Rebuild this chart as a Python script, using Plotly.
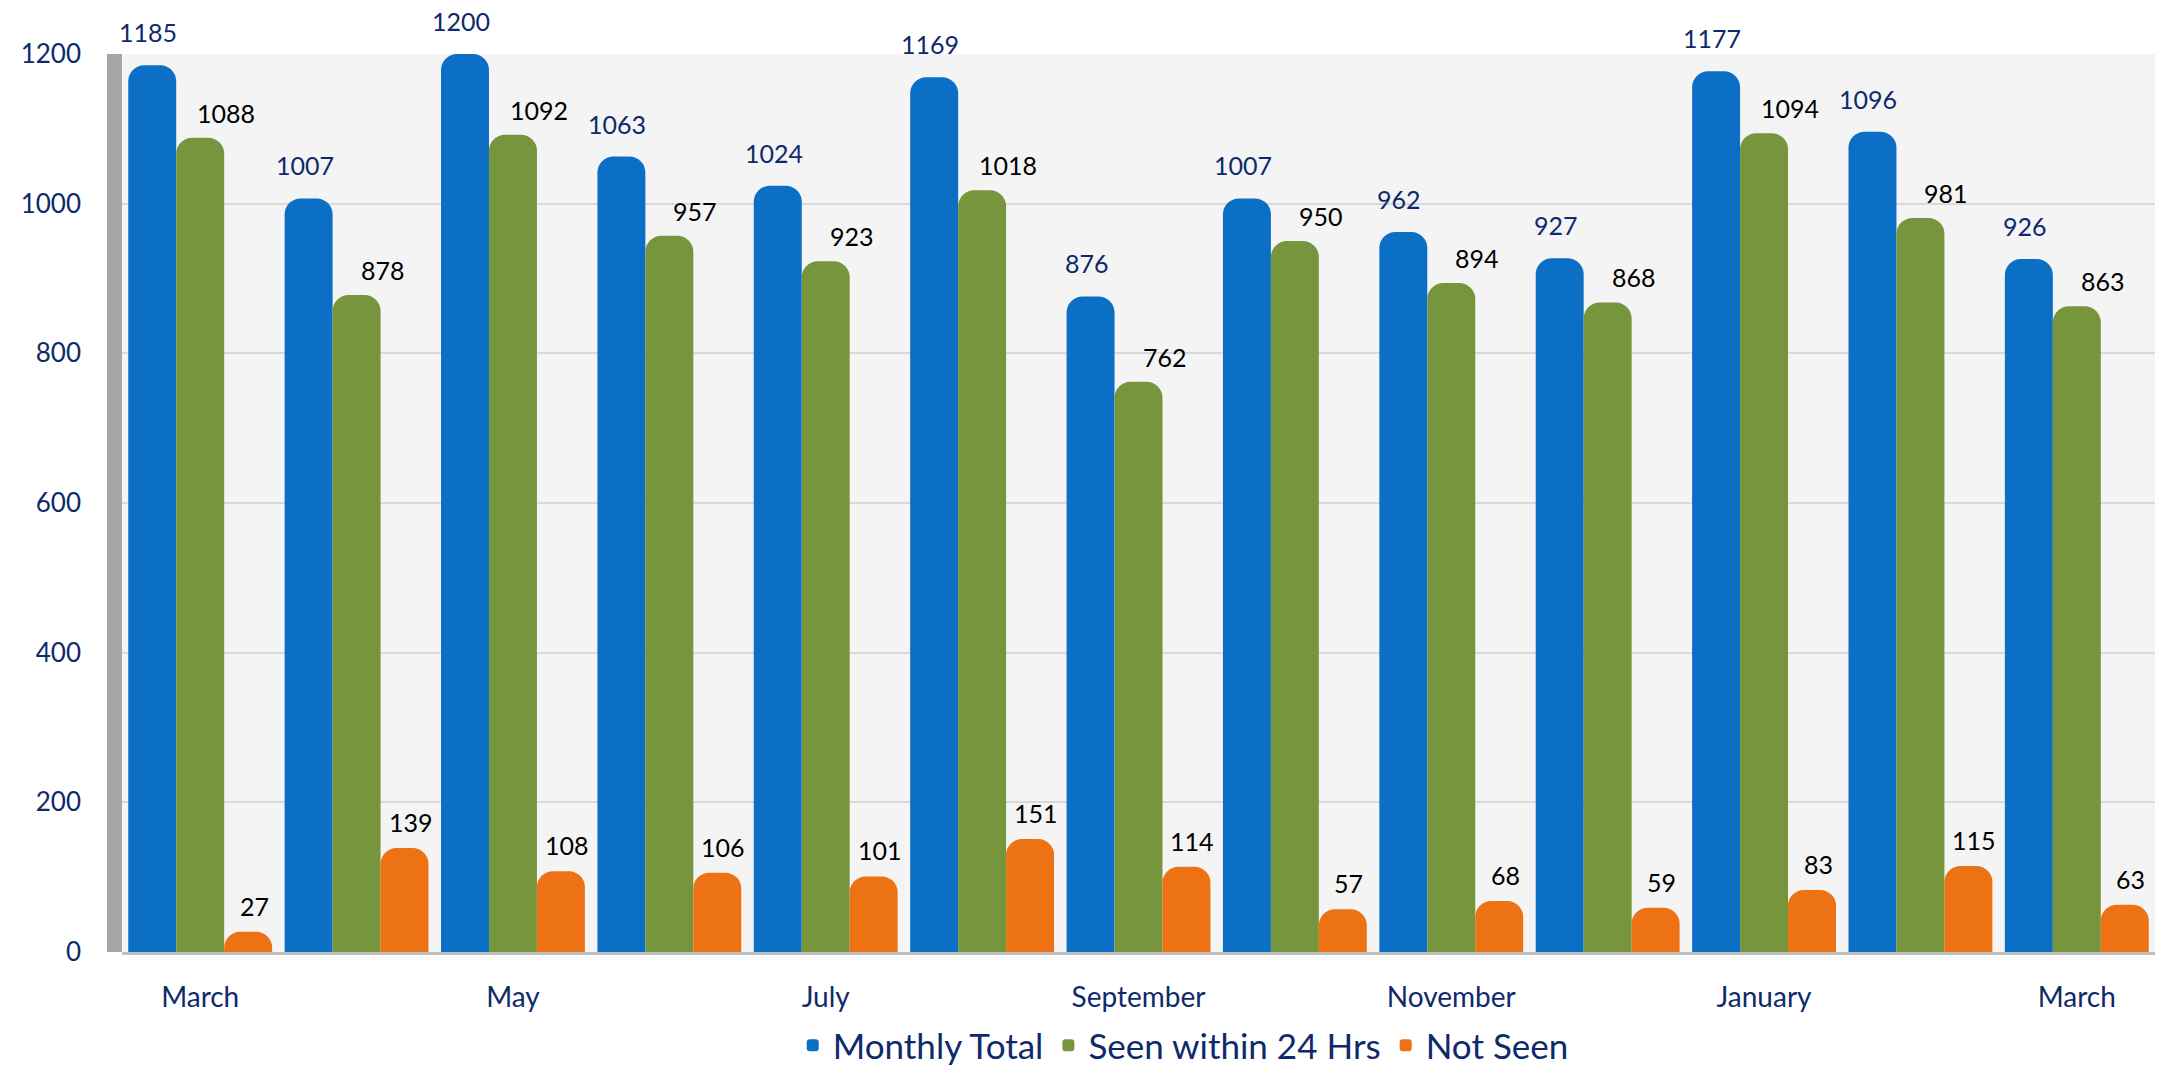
import plotly.graph_objects as go

months = ["March", "April", "May", "June", "July", "August", "September",
          "October", "November", "December", "January", "February", "March"]
monthly_total = [1185, 1007, 1200, 1063, 1024, 1169, 876, 1007, 962, 927, 1177, 1096, 926]
seen_24h = [1088, 878, 1092, 957, 923, 1018, 762, 950, 894, 868, 1094, 981, 863]
not_seen = [27, 139, 108, 106, 101, 151, 114, 57, 68, 59, 83, 115, 63]
y_ticks = [0, 200, 400, 600, 800, 1000, 1200]

x = list(range(len(months)))
tick_idx = x[::2]
tick_text = [months[i] for i in tick_idx]

FONT = "Lato, 'Open Sans', sans-serif"
NAVY = "#0E2A6B"
BARGAP = 0.08

# (name, values, colour, label colour, label x-shift px, label y-shift px)
series = [
    ("Monthly Total", monthly_total, "#0B6FC6", NAVY, -4, 33),
    ("Seen within 24 Hrs", seen_24h, "#76953C", "#000000", 26, 25),
    ("Not Seen", not_seen, "#EC7214", "#000000", 6, 26),
]
n = len(series)
bw = (1 - BARGAP) / n

fig = go.Figure()
for k, (name, vals, color, tcolor, xs, ys) in enumerate(series):
    fig.add_trace(go.Bar(
        x=x, y=vals, name=name,
        marker=dict(color=color, cornerradius=16, line=dict(width=0)),
        hoverinfo="x+y",
    ))
    off = (k - (n - 1) / 2) * bw
    for xi, v in zip(x, vals):
        fig.add_annotation(
            x=xi + off, y=v, text=str(v), showarrow=False,
            xanchor="center", yanchor="middle", xshift=xs, yshift=ys,
            font=dict(family=FONT, size=25, color=tcolor),
        )

fig.add_shape(type="rect", xref="paper", yref="paper", x0=-0.0074, x1=0, y0=0, y1=1,
              fillcolor="#A6A6A6", line=dict(width=0), layer="below")

fig.update_layout(
    width=2173, height=1067,
    barmode="group", bargap=BARGAP, bargroupgap=0,
    paper_bgcolor="white", plot_bgcolor="#F4F4F4",
    margin=dict(l=122, r=18, t=54, b=115, autoexpand=False),
    font=dict(family=FONT, color=NAVY),
    showlegend=True,
    legend=dict(orientation="h", x=0.522, xanchor="center", y=-0.104, yanchor="middle",
                font=dict(family=FONT, size=35, color=NAVY), itemwidth=30,
                tracegroupgap=0),
)
fig.update_xaxes(
    tickvals=tick_idx, ticktext=tick_text, range=[-0.5, len(months) - 0.5],
    showgrid=False, zeroline=False, showline=True, linecolor="#BFBFBF", linewidth=3,
    tickfont=dict(family=FONT, size=28, color=NAVY), ticks="", ticklabelstandoff=18,
)
fig.update_yaxes(
    range=[0, 1200], tickvals=y_ticks, showgrid=True, gridcolor="#D9D9D9", gridwidth=2,
    zeroline=False, showline=False,
    tickfont=dict(family=FONT, size=26, color=NAVY), ticks="", ticklabelstandoff=40,
)
fig.write_html("out.html")
